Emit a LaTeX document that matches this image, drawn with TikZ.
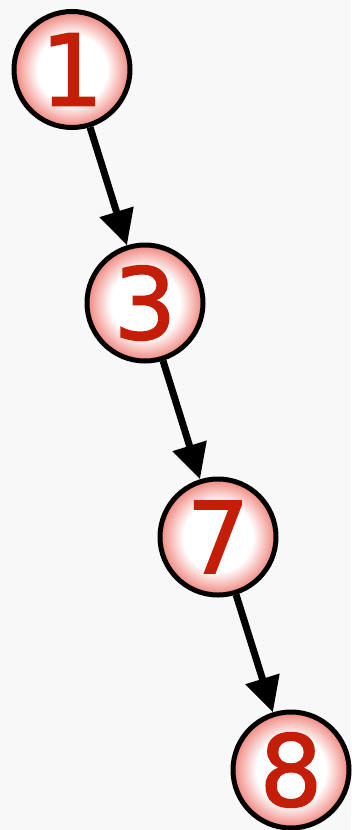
\documentclass[tikz,border=0pt]{standalone}
\usepackage{fontspec}
\setmainfont{DejaVu Sans}[FakeBold=1.6]
\usetikzlibrary{arrows.meta}
\definecolor{bgcol}{RGB}{248,248,248}
\definecolor{numred}{RGB}{196,30,8}
\definecolor{ringpink}{RGB}{240,132,124}
\pgfdeclareradialshading{ball}{\pgfpoint{0bp}{0bp}}{color(0bp)=(white); color(15bp)=(white); color(25bp)=(ringpink); color(50bp)=(ringpink)}
\tikzset{
  numnode/.style={circle, draw=black, line width=5pt, shading=ball, minimum size=116pt, inner sep=0pt,
    text=numred, font=\fontsize{99}{99}\selectfont},
  link/.style={line width=7pt, -{Triangle[length=35pt,width=34pt]}}
}
\begin{document}
\begin{tikzpicture}[x=1pt,y=-1pt]
\fill[bgcol] (0,0) rectangle (351,830);
\useasboundingbox (0,0) rectangle (351,830);
\node[numnode] (n1) at (72,69.5) {1};
\node[numnode] (n3) at (145,303) {3};
\node[numnode] (n7) at (218,537) {7};
\node[numnode] (n8) at (291,770) {8};
\draw[link] (n1) -- (n3);
\draw[link] (n3) -- (n7);
\draw[link] (n7) -- (n8);
\end{tikzpicture}
\end{document}
